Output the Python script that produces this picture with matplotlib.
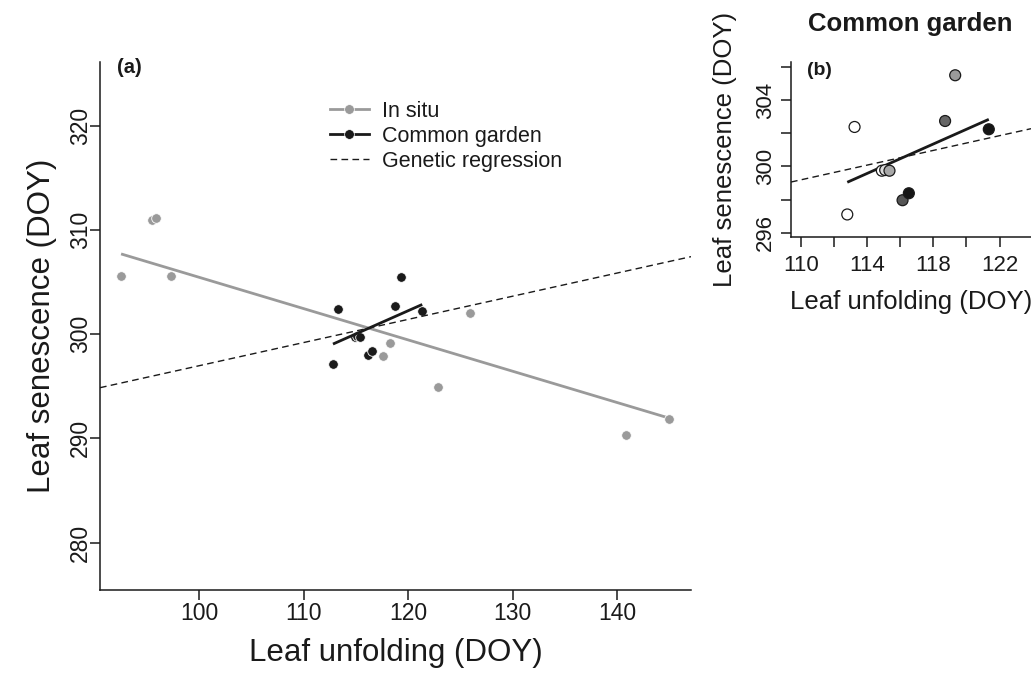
import numpy as np
import matplotlib
matplotlib.use("Agg")
import matplotlib.pyplot as plt
from matplotlib.lines import Line2D

plt.rcParams['font.family'] = ['Liberation Sans', 'DejaVu Sans']

# Common garden trees (same trees in both panels)
cg_unfold = [112.8, 113.24, 114.89, 115.09, 115.35, 116.14, 116.52, 118.71, 119.32, 121.35]
cg_senes = [297.1, 302.38, 299.74, 299.78, 299.74, 297.96, 298.38, 302.74, 305.5, 302.24]
# fill shade of each common garden tree in panel (b)
cg_shade = ['#ffffff', '#ffffff', '#ffffff', '#dcdcdc', '#a8a8a8',
            '#555555', '#151515', '#666666', '#9a9a9a', '#151515']

# In situ observations
is_unfold = [92.5, 95.5, 95.85, 97.3, 117.6, 118.3, 122.9, 125.95, 140.85, 145.0]
is_senes = [305.55, 310.95, 311.18, 305.6, 297.85, 299.1, 294.9, 302.0, 290.35, 291.9]

# regression lines: (intercept, slope)
is_fit = (335.44, -0.300)
cg_fit = (248.96, 0.444)
gen_fit = (274.77, 0.222)

grey = '#9a9a9a'
dark = '#1a1a1a'

W, H = 1031, 677
fig = plt.figure(figsize=(W / 100, H / 100), dpi=100)


def px_axes(left, top, right, bottom):
    return fig.add_axes([left / W, (H - bottom) / H, (right - left) / W, (bottom - top) / H])


def style(ax, size, xpad, ypad):
    for s in ['top', 'right']:
        ax.spines[s].set_visible(False)
    for s in ['left', 'bottom']:
        ax.spines[s].set_linewidth(1.1)
        ax.spines[s].set_color(dark)
    ax.tick_params(direction='out', length=7, width=1.1, color=dark,
                   labelsize=size, labelcolor=dark)
    ax.tick_params(axis='x', pad=xpad)
    ax.tick_params(axis='y', labelrotation=90, pad=ypad)
    for lab in ax.get_yticklabels():
        lab.set_va('center')


# ---- panel (a) ----
ax = px_axes(100, 62, 691, 590)
ax.set_xlim(90.48, 147.1)
ax.set_ylim(275.45, 326.1)

xs = np.array([min(is_unfold), max(is_unfold)])
ax.plot(xs, is_fit[0] + is_fit[1] * xs, color=grey, lw=2.0, solid_capstyle='butt', zorder=2)
ax.scatter(is_unfold, is_senes, s=48, color=grey, edgecolor='white', linewidth=0.6, zorder=3)

ax.scatter(cg_unfold, cg_senes, s=48, color=dark, edgecolor='white', linewidth=0.6, zorder=4)
xs = np.array([min(cg_unfold), max(cg_unfold)])
ax.plot(xs, cg_fit[0] + cg_fit[1] * xs, color=dark, lw=2.0, solid_capstyle='butt', zorder=5)

xs = np.array(ax.get_xlim())
ax.plot(xs, gen_fit[0] + gen_fit[1] * xs, color=dark, lw=1.0, dashes=(4.8, 3.1), zorder=6)

ax.set_xticks([100, 110, 120, 130, 140])
ax.set_yticks([280, 290, 300, 310, 320])
style(ax, 16.5, 2, -1.5)
ax.set_xlabel('Leaf unfolding (DOY)', fontsize=22.5, color=dark, labelpad=9)
ax.set_ylabel('Leaf senescence (DOY)', fontsize=22.5, color=dark, labelpad=9)
ax.text(0.029, 0.99, '(a)', transform=ax.transAxes, fontsize=14.5, fontweight='bold',
        va='center', ha='left', color=dark)

handles = [
    Line2D([], [], color=grey, lw=2.0, marker='o', markersize=7, markeredgecolor='white',
           markeredgewidth=0.5),
    Line2D([], [], color=dark, lw=2.0, marker='o', markersize=7, markeredgecolor='white',
           markeredgewidth=0.5),
    Line2D([], [], color=dark, lw=1.0, dashes=(4.8, 3.1)),
]
ax.legend(handles, ['In situ', 'Common garden', 'Genetic regression'],
          loc='upper left', bbox_to_anchor=(330 / W, (H - 101) / H),
          bbox_transform=fig.transFigure, frameon=False, fontsize=15.5,
          handlelength=1.8, handletextpad=0.6, labelspacing=0.18,
          borderaxespad=0, borderpad=0, labelcolor=dark)

# ---- panel (b) ----
bx = px_axes(791, 62, W, 237)
bx.set_xlim(109.4, 123.9)
bx.set_ylim(295.74, 306.3)

xs = np.array(bx.get_xlim())
bx.plot(xs, gen_fit[0] + gen_fit[1] * xs, color=dark, lw=1.0, dashes=(4.8, 3.1), zorder=2)
xs = np.array([min(cg_unfold), max(cg_unfold)])
bx.plot(xs, cg_fit[0] + cg_fit[1] * xs, color=dark, lw=2.0, solid_capstyle='butt', zorder=3)
bx.scatter(cg_unfold, cg_senes, s=62, c=cg_shade, edgecolor=dark, linewidth=0.9, zorder=4)

bx.set_xticks(np.arange(110, 124, 2))
bx.set_xticklabels([str(v) if v % 4 == 2 else '' for v in range(110, 124, 2)])
bx.set_yticks(np.arange(296, 307, 2))
bx.set_yticklabels([str(v) if v % 4 == 0 else '' for v in range(296, 307, 2)])
style(bx, 16, 6, 4)
bx.set_xlabel('Leaf unfolding (DOY)', fontsize=18.5, color=dark, labelpad=10)
bx.set_ylabel('Leaf senescence (DOY)', fontsize=18.5, color=dark, labelpad=13)
bx.text(0.065, 0.95, '(b)', transform=bx.transAxes, fontsize=14, fontweight='bold',
        va='center', ha='left', color=dark)
fig.text(910 / W, 1 - 24 / H, 'Common garden', fontsize=18.5, fontweight='bold',
         ha='center', va='center', color=dark)

fig.savefig('out.png', dpi=100)
